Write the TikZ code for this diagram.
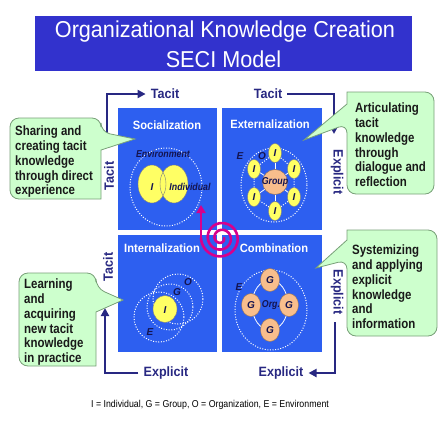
\documentclass[tikz,border=0pt]{standalone}
\usepackage{fontspec}
\setmainfont{Liberation Sans}
\usetikzlibrary{arrows.meta,shapes.geometric}
\definecolor{titleblue}{RGB}{50,50,205}
\definecolor{quadblue}{RGB}{45,95,240}
\definecolor{navy}{RGB}{40,40,130}
\definecolor{ink}{RGB}{20,20,80}
\definecolor{callfill}{RGB}{205,255,205}
\definecolor{calldraw}{RGB}{120,160,120}
\definecolor{yel}{RGB}{255,255,100}
\definecolor{peach}{RGB}{248,190,140}
\definecolor{mag}{RGB}{215,0,140}
\newcommand{\cond}[2][0.93]{\scalebox{#1}[1]{#2}}
\begin{document}
\begin{tikzpicture}[x=1pt,y=-1pt,
  quad/.style={fill=quadblue},
  quadtitle/.style={text=white, font=\fontsize{12}{12}\selectfont\bfseries, inner sep=0pt},
  flow/.style={draw=navy, line width=2.6pt, -{Triangle[length=8pt,width=8pt]}},
  flowlabel/.style={text=navy, font=\fontsize{13.5}{13.5}\selectfont\bfseries, inner xsep=5pt, inner ysep=1pt},
  calloutbox/.style={fill=callfill, draw=calldraw, line width=0.8pt},
  callouttext/.style={font=\fontsize{13.5}{14.7}\selectfont\bfseries, align=left, anchor=north west, inner sep=0pt, text=black!90, xscale=0.85},
  inktext/.style={text=ink, font=\fontsize{10}{10}\selectfont\bfseries\itshape, inner sep=0pt},
  dotring/.style={draw=white, line width=1pt, dash pattern=on 1pt off 1.6pt},
  yelblob/.style={ellipse, fill=yel, draw=black!50, line width=0.4pt, inner sep=0pt},
  peachblob/.style={ellipse, fill=peach, draw=peach!60!black, line width=0.4pt, inner sep=0pt}
]
\useasboundingbox (0,0) rectangle (440,424);

% title
\node[fill=titleblue, minimum width=377pt, minimum height=55pt, inner sep=0pt] (titlebox) at (223.5,43.5) {};
\node[text=white, font=\fontsize{23}{23}\selectfont, inner sep=0pt] (title1) at (225,32) {\cond[0.94]{Organizational Knowledge Creation}};
\node[text=white, font=\fontsize{23}{23}\selectfont, inner sep=0pt] (title2) at (223.5,59) {\cond[0.94]{SECI Model}};

% quadrants
\fill[quad] (118,108) rectangle (217,230);
\fill[quad] (222,108) rectangle (322,230);
\fill[quad] (118,235) rectangle (217,352);
\fill[quad] (222,235) rectangle (322,352);
\node[quadtitle] (qs) at (167,125) {\cond{Socialization}};
\node[quadtitle] (qe) at (270,124) {\cond{Externalization}};
\node[quadtitle] (qi) at (162,248) {\cond{Internalization}};
\node[quadtitle] (qc) at (274,248) {\cond{Combination}};

% Socialization content
\draw[dotring] (166,187) ellipse [x radius=36, y radius=39];
\node[inktext] (env) at (163,154) {\cond[0.88]{Environment}};
\fill[yel] (152,184) ellipse [x radius=14, y radius=19];
\fill[yel] (174,184) ellipse [x radius=14, y radius=19];
\node[ellipse, draw=black!50, line width=0.4pt, minimum width=28pt, minimum height=38pt, inner sep=0pt] (sI) at (152,184) {};
\node[ellipse, draw=black!50, line width=0.4pt, minimum width=28pt, minimum height=38pt, inner sep=0pt] (sInd) at (174,184) {};
\node[inktext] (sIt) at (152,187) {I};
\node[inktext] (sIndt) at (190,187) {\cond[0.88]{Individual}};

% Externalization content
\draw[dotring] (274,185) ellipse [x radius=33, y radius=37];
\node[peachblob, circle, minimum size=25pt] (grp) at (275,182) {};
\node[yelblob, minimum width=13pt, minimum height=19pt] (e1) at (275,153) {};
\node[yelblob, minimum width=13pt, minimum height=19pt] (e2) at (294,169) {};
\node[yelblob, minimum width=13pt, minimum height=19pt] (e3) at (294,197) {};
\node[yelblob, minimum width=13pt, minimum height=19pt] (e4) at (275,211) {};
\node[yelblob, minimum width=13pt, minimum height=19pt] (e5) at (254,197) {};
\node[yelblob, minimum width=13pt, minimum height=19pt] (e6) at (254,169) {};
\foreach \k in {1,...,6} {\draw[white, line width=0.8pt] (grp) -- (e\k);}
\draw[dotring] (e1) -- (e2) -- (e3) -- (e4) -- (e5) -- (e6) -- (e1);
\foreach \k in {1,...,6} {\node[inktext] at (e\k) {I};}
\node[inktext] (grpt) at (grp) {\cond[0.88]{Group}};
\node[inktext] (eE) at (240,156) {E};
\node[inktext] (eO) at (262,156) {O};

% Internalization content
\draw[dotring] (178,299) circle [radius=25];
\draw[dotring] (170,307) circle [radius=23];
\draw[dotring] (159,317) circle [radius=25];
\node[yelblob, minimum width=24pt, minimum height=27pt] (iI) at (165,309) {};
\node[inktext] (iIt) at (165,310) {I};
\node[inktext] (iG) at (177,292) {G};
\node[inktext] (iO) at (188,282) {O};
\node[inktext] (iE) at (150,332) {E};

% Combination content
\draw[dotring] (271,310) ellipse [x radius=36, y radius=40];
\draw[white, line width=0.8pt] (270,305) ellipse [x radius=18, y radius=25];
\node[peachblob, minimum width=19pt, minimum height=23pt] (g1) at (270,280) {};
\node[peachblob, minimum width=19pt, minimum height=23pt] (g2) at (251,305) {};
\node[peachblob, minimum width=19pt, minimum height=23pt] (g3) at (289,305) {};
\node[peachblob, minimum width=19pt, minimum height=23pt] (g4) at (270,330) {};
\foreach \k in {1,...,4} {\node[inktext] at (g\k) {G};}
\node[inktext] (org) at (271,305) {\cond[0.88]{Org.}};
\node[inktext] (cE) at (239,287) {E};

% spiral
\draw[mag, line width=2.6pt, line cap=round, shift={(221,238)}] plot[domain=-720:180, samples=160, smooth] (\x:{3+17*(\x+720)/900});
\draw[mag, line width=2.6pt, -{Triangle[length=8pt,width=9pt]}] (201,238) -- (201,205);

% flow labels and arrows
\node[flowlabel] (tacitTL) at (165,94) {\cond{Tacit}};
\node[flowlabel] (tacitTR) at (268,94) {\cond{Tacit}};
\node[flowlabel, rotate=90] (tacitL) at (109,176) {\cond{Tacit}};
\node[flowlabel, rotate=90] (tacitBL) at (108,267) {\cond{Tacit}};
\node[flowlabel, rotate=-90] (explTR) at (337,172) {\cond{Explicit}};
\node[flowlabel, rotate=-90] (explBR) at (337,292) {\cond{Explicit}};
\node[flowlabel] (explBRb) at (281,373) {\cond{Explicit}};
\node[flowlabel] (explBL) at (166,373) {\cond{Explicit}};
\coordinate (tlStart) at (107,146);
\coordinate (trEnd) at (334,134);
\coordinate (brStart) at (335,322);
\coordinate (blEnd) at (105,308);
\draw[flow] (tlStart) |- (tacitTL.west);
\draw[flow] (tacitTR.east) -| (trEnd);
\draw[flow] (brStart) |- (explBRb.east);
\draw[flow] (explBL.west) -| (blEnd);

% callouts
\draw[calloutbox] (55,118) [rounded corners=9pt] -- (101,118) -- (101,132) [sharp corners] -- (135,139) -- (101,150) -- (101,199) [rounded corners=9pt] -- (10,199) -- (10,118) -- cycle;
\draw[calloutbox] (390,92) [rounded corners=9pt] -- (434,92) -- (434,194) -- (347,194) -- (347,124) [sharp corners] -- (304,140) -- (347,104) -- (347,92) [rounded corners=9pt] -- cycle;
\draw[calloutbox] (57,273) [rounded corners=9pt] -- (96,273) -- (96,288) [sharp corners] -- (123,300) -- (96,312) -- (96,366) [rounded corners=9pt] -- (19,366) -- (19,273) -- cycle;
\draw[calloutbox] (390,230) [rounded corners=9pt] -- (437,230) -- (437,336) -- (347,336) -- (347,260) [sharp corners] -- (316,268) -- (347,240) -- (347,230) [rounded corners=9pt] -- cycle;
\node[callouttext] (tSoc) at (15,126) {Sharing and\\creating tacit\\knowledge\\through direct\\experience};
\node[callouttext] (tExt) at (355,103) {Articulating\\tacit\\knowledge\\through\\dialogue and\\reflection};
\node[callouttext] (tInt) at (24,279) {Learning\\and\\acquiring\\new tacit\\knowledge\\in practice};
\node[callouttext] (tCom) at (352,245) {Systemizing\\and applying\\explicit\\knowledge\\and\\information};

% legend
\node[font=\fontsize{10}{10}\selectfont, inner sep=0pt] (legend) at (210,405) {\cond[0.88]{I = Individual, G = Group, O = Organization, E = Environment}};
\end{tikzpicture}
\end{document}
